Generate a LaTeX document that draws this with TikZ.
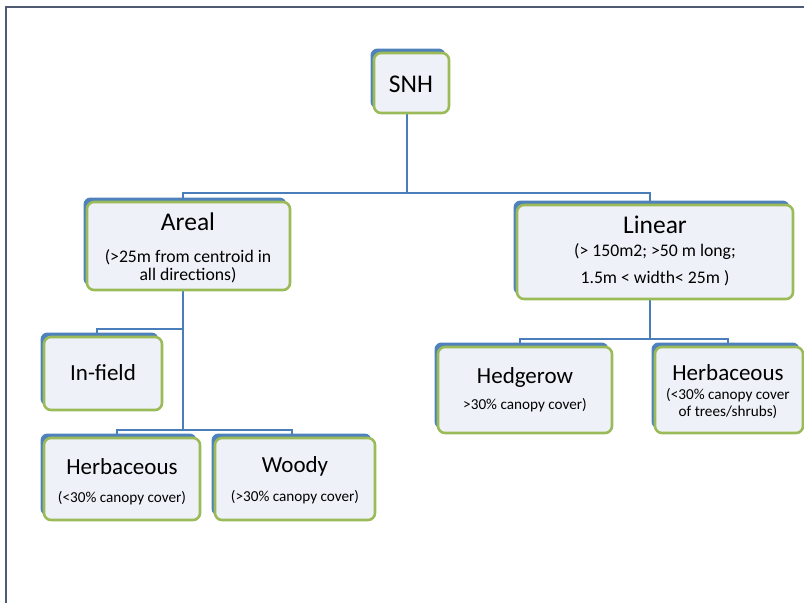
\documentclass[tikz,border=0pt]{standalone}
\usepackage{fontspec}
\setmainfont{Carlito}
\usetikzlibrary{shadows,backgrounds}
\definecolor{boxgreen}{HTML}{9BBB59}
\definecolor{shadowblue}{HTML}{4F81BD}
\definecolor{boxfill}{HTML}{EEF2F8}
\definecolor{linkblue}{HTML}{4A7EBB}
\definecolor{framecol}{HTML}{4F5B73}
\begin{document}
\begin{tikzpicture}[x=1pt,y=-1pt,
  box/.style={draw=boxgreen, line width=2.6pt, fill=boxfill, rounded corners=7pt,
    general shadow={fill=shadowblue, shadow xshift=-3.5pt, shadow yshift=4.5pt},
    inner sep=0pt, outer sep=0pt},
  conn/.style={draw=linkblue, line width=2.4pt},
  big/.style={font=\fontsize{25.5}{30}\selectfont, text=black, inner sep=0pt},
  mid/.style={font=\fontsize{23}{27}\selectfont, text=black, inner sep=0pt},
  subl/.style={font=\fontsize{17.7}{21}\selectfont, text=black, inner sep=0pt},
  subs/.style={font=\fontsize{15.2}{18}\selectfont, text=black, inner sep=0pt}]
\useasboundingbox (0,0) rectangle (804,603);
\draw[framecol, line width=2.2pt] (6,603) -- (6,7) -- (804,7);

% boxes
\node[box, minimum width=75pt, minimum height=60pt] (snh) at (411.5,83) {};
\node[box, minimum width=203pt, minimum height=88pt] (areal) at (188.5,246) {};
\node[box, minimum width=276pt, minimum height=94pt] (linear) at (655,252) {};
\node[box, minimum width=118pt, minimum height=73pt] (infield) at (103,373.5) {};
\node[box, minimum width=156pt, minimum height=82pt] (herbl) at (122,479) {};
\node[box, minimum width=160pt, minimum height=82pt] (woody) at (295,479) {};
\node[box, minimum width=174pt, minimum height=86pt] (hedge) at (525,390) {};
\node[box, minimum width=148pt, minimum height=86pt] (herbr) at (729,390) {};

% texts
\node[big] (tsnh) at (411,84) {SNH};
\node[big] (tareal) at (188,222) {Areal};
\node[subl] (sareal1) at (188,257) {(>25m from centroid in};
\node[subl] (sareal2) at (188,275) {all directions)};
\node[big] (tlinear) at (655,225) {Linear};
\node[subl] (slinear1) at (655,252) {(> 150m2; >50 m long;};
\node[subl] (slinear2) at (655,278) {1.5m < width< 25m )};
\node[mid] (tinfield) at (103,373) {In-field};
\node[mid] (therbl) at (122,467) {Herbaceous};
\node[subs] (sherbl) at (122,498) {(<30\% canopy cover)};
\node[mid] (twoody) at (295,466) {Woody};
\node[subs] (swoody) at (295,497) {(>30\% canopy cover)};
\node[mid] (thedge) at (525,377) {Hedgerow};
\node[subs] (shedge) at (525,405) {>30\% canopy cover)};
\node[mid] (therbr) at (728,373) {Herbaceous};
\node[subs] (sherbr1) at (728,395) {(<30\% canopy cover};
\node[subs] (sherbr2) at (728,412) {of trees/shrubs)};

% connectors
\begin{pgfonlayer}{background}
\coordinate (bus1) at (407,193);
\coordinate (bus2) at (183,329);
\coordinate (bus3) at (183,430);
\coordinate (bus4) at (650,339);
\draw[conn] ([xshift=-4.5pt]snh.south) -- ([xshift=-4.5pt]snh.south |- bus1);
\draw[conn] ([xshift=-5.5pt]areal.north) -- ([xshift=-5.5pt]areal.north |- bus1)
  -- ([xshift=-5pt]linear.north |- bus1) -- ([xshift=-5pt]linear.north);
\draw[conn] ([xshift=-5.5pt]areal.south) -- (bus3);
\draw[conn] ([xshift=-6pt]infield.north) -- ([xshift=-6pt]infield.north |- bus2) -- (bus2);
\draw[conn] ([xshift=-5pt]herbl.north) -- ([xshift=-5pt]herbl.north |- bus3)
  -- ([xshift=-3pt]woody.north |- bus3) -- ([xshift=-3pt]woody.north);
\draw[conn] ([xshift=-5pt]linear.south) -- (bus4);
\draw[conn] ([xshift=-5pt]hedge.north) -- ([xshift=-5pt]hedge.north |- bus4)
  -- ([xshift=-1pt]herbr.north |- bus4) -- ([xshift=-1pt]herbr.north);
\end{pgfonlayer}
\end{tikzpicture}
\end{document}
